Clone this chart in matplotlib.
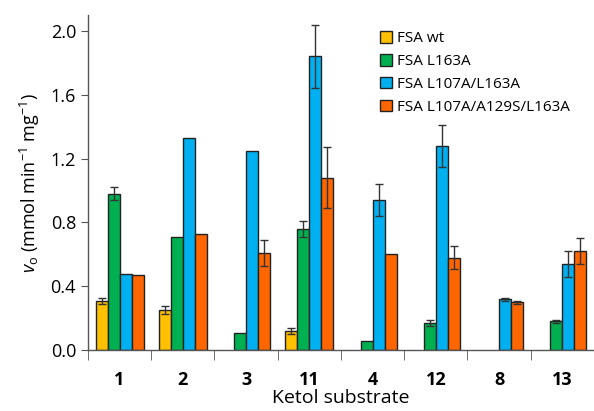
import matplotlib
matplotlib.use('agg')
import matplotlib.pyplot as plt
import numpy as np

substrates = ['1', '2', '3', '11', '4', '12', '8', '13']
series = ['FSA wt', 'FSA L163A', 'FSA L107A/L163A', 'FSA L107A/A129S/L163A']
colors = ['#FFC000', '#00B050', '#00B0F0', '#FF6600']

wt = [0.31, 0.25, 0, 0.12, 0, 0, 0, 0]
wt_err = [0.02, 0.025, 0, 0.02, 0, 0, 0, 0]
l163a = [0.98, 0.71, 0.11, 0.76, 0.06, 0.17, 0, 0.18]
l163a_err = [0.04, 0, 0, 0.05, 0, 0.02, 0, 0.01]
l107a = [0.48, 1.33, 1.25, 1.84, 0.94, 1.28, 0.32, 0.54]
l107a_err = [0, 0, 0, 0.2, 0.1, 0.13, 0.01, 0.08]
triple = [0.47, 0.73, 0.61, 1.08, 0.60, 0.58, 0.30, 0.62]
triple_err = [0, 0, 0.08, 0.19, 0, 0.07, 0.01, 0.08]

values = [wt, l163a, l107a, triple]
errors = [wt_err, l163a_err, l107a_err, triple_err]

plt.rcParams['font.family'] = ['Open Sans', 'DejaVu Sans']
plt.rcParams['mathtext.fontset'] = 'custom'
plt.rcParams['mathtext.it'] = 'Open Sans:italic'
plt.rcParams['mathtext.rm'] = 'Open Sans'

fig = plt.figure(figsize=(5.94, 4.11), dpi=100)
ax = fig.add_axes([0.148, 0.148, 0.852, 0.8155])

x = np.arange(len(substrates))
w = 0.19
for i, (vals, errs) in enumerate(zip(values, errors)):
    pos = x + (i - 1.5) * w
    vals = np.array(vals, dtype=float)
    errs = np.array(errs, dtype=float)
    mask = vals > 0
    ax.bar(pos[mask], vals[mask], width=w, color=colors[i], edgecolor='#222222',
           linewidth=1.0, label=series[i], zorder=2)
    emask = errs > 0
    ax.errorbar(pos[emask], vals[emask], yerr=errs[emask], fmt='none',
                ecolor='#333333', elinewidth=1.0, capsize=3, capthick=1.0, zorder=3)

ax.set_xlim(-0.5, len(substrates) - 0.5)
ax.set_ylim(0, 2.1)
ax.set_yticks([0.0, 0.4, 0.8, 1.2, 1.6, 2.0])
ax.set_yticklabels(['0.0', '0.4', '0.8', '1.2', '1.6', '2.0'], fontsize=13)

ax.set_xticks(x)
ax.set_xticklabels(substrates, fontsize=13, fontweight='bold')
ax.tick_params(axis='x', length=0, pad=15)
ax.set_xticks(np.arange(len(substrates) + 1) - 0.5, minor=True)
ax.tick_params(axis='x', which='minor', length=7, direction='out', color='#555555')
ax.tick_params(axis='y', length=5, direction='out', color='#555555')

for s in ['top', 'right']:
    ax.spines[s].set_visible(False)
for s in ['left', 'bottom']:
    ax.spines[s].set_color('#555555')
    ax.spines[s].set_linewidth(1.0)

ax.set_xlabel('Ketol substrate', fontsize=14, labelpad=0)
ax.set_ylabel(r'$v_{\rm o}$ (mmol min$^{-1}$ mg$^{-1}$)', fontsize=13, labelpad=6)

leg = ax.legend(loc='upper left', bbox_to_anchor=(0.565, 0.97), frameon=False,
                fontsize=11, handlelength=0.8, handleheight=0.8,
                handletextpad=0.3, labelspacing=0.5, borderaxespad=0)

fig.savefig('out.png', dpi=100)
